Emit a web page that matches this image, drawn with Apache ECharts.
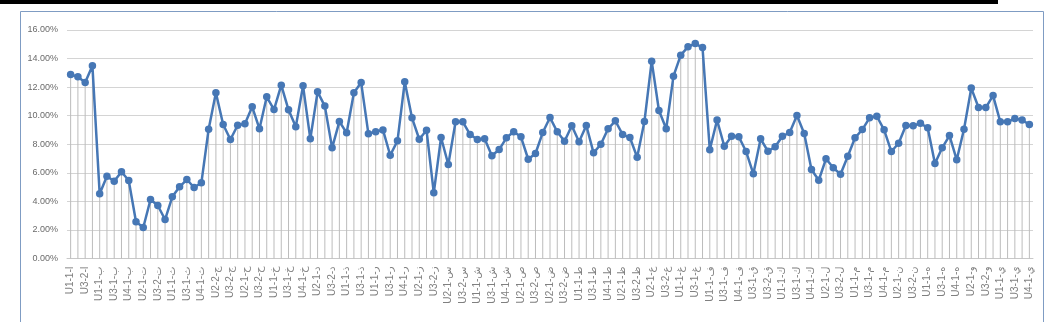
<!DOCTYPE html>
<html>
<head>
<meta charset="utf-8">
<script src="https://cdn.jsdelivr.net/npm/echarts@6/dist/echarts.min.js"></script>
<style>
html,body{margin:0;padding:0;background:#fff;}
#chart{width:1046px;height:322px;}
</style>
</head>
<body>
<div id="chart"></div>
<script>
// Categories (133); every other one is labelled on the axis
const categories = [
 'U1-1-ا','U2-1-ا','U3-2-ا','U4-1-ا','U1-1-ب','U2-1-ب','U3-1-ب','U3-2-ب','U4-1-ب','U1-1-ت',
 'U2-1-ت','U3-1-ت','U3-2-ت','U4-1-ت','U1-1-ث','U2-1-ث','U3-1-ث','U3-2-ث','U4-1-ث','U2-1-ج',
 'U2-2-ج','U3-1-ج','U3-2-ج','U1-1-ح','U2-1-ح','U3-1-ح','U3-2-ح','U4-1-ح','U1-1-خ','U2-1-خ',
 'U3-1-خ','U3-2-خ','U4-1-خ','U1-1-د','U2-1-د','U3-1-د','U3-2-د','U4-1-د','U1-1-ذ','U2-1-ذ',
 'U3-1-ذ','U4-1-ذ','U1-1-ر','U2-1-ر','U3-1-ر','U3-2-ر','U4-1-ر','U1-1-ز','U2-1-ز','U3-1-ز',
 'U3-2-ز','U1-1-س','U2-1-س','U3-1-س','U3-2-س','U4-1-س','U1-1-ش','U2-1-ش','U3-1-ش','U3-2-ش',
 'U4-1-ش','U1-1-ص','U2-1-ص','U3-1-ص','U3-2-ص','U1-1-ض','U2-1-ض','U3-1-ض','U3-2-ض','U4-1-ض',
 'U1-1-ط','U2-1-ط','U3-1-ط','U3-2-ط','U4-1-ط','U1-1-ظ','U2-1-ظ','U3-1-ظ','U3-2-ظ','U1-1-ع',
 'U2-1-ع','U3-1-ع','U3-2-ع','U4-1-ع','U1-1-غ','U2-1-غ','U3-1-غ','U3-2-غ','U1-1-ف','U2-1-ف',
 'U3-1-ف','U3-2-ف','U4-1-ف','U2-1-ق','U3-1-ق','U3-1-ق ','U3-2-ق','U4-1-ق','U1-1-ك','U2-1-ك',
 'U3-1-ك','U3-2-ك','U4-1-ك','U1-1-ل','U2-1-ل','U3-1-ل','U3-2-ل','U4-1-ل','U1-1-م','U2-1-م',
 'U3-1-م','U3-2-م','U4-1-م','U1-1-ن','U2-1-ن','U3-1-ن','U3-2-ن','U4-1-ن','U1-1-ه','U2-1-ه',
 'U3-1-ه','U3-2-ه','U4-1-ه','U1-1-و','U2-1-و','U3-1-و','U3-2-و','U4-1-و','U1-1-ي','U2-1-ي',
 'U3-1-ي','U3-2-ي','U4-1-ي'
];

// Values in percent
const values = [
 12.88,12.72,12.32,13.49,4.53,5.76,5.41,6.07,5.46,2.57,
 2.17,4.13,3.71,2.73,4.32,5.02,5.53,4.97,5.30,9.05,
 11.60,9.38,8.33,9.33,9.43,10.62,9.08,11.32,10.43,12.14,
 10.41,9.22,12.09,8.38,11.67,10.67,7.75,9.59,8.80,11.60,
 12.32,8.73,8.87,9.00,7.23,8.24,12.37,9.85,8.35,8.98,
 4.60,8.47,6.58,9.57,9.57,8.68,8.33,8.38,7.19,7.63,
 8.45,8.87,8.52,6.95,7.35,8.82,9.87,8.87,8.21,9.29,
 8.17,9.31,7.40,8.00,9.08,9.64,8.68,8.47,7.09,9.59,
 13.82,10.36,9.08,12.77,14.24,14.82,15.05,14.77,7.62,9.69,
 7.86,8.56,8.52,7.49,5.93,8.38,7.51,7.82,8.56,8.82,
 10.01,8.75,6.23,5.48,6.98,6.35,5.90,7.16,8.45,9.03,
 9.85,9.96,9.01,7.49,8.07,9.31,9.29,9.47,9.15,6.65,
 7.75,8.61,6.91,9.05,11.93,10.57,10.57,11.41,9.57,9.57,
 9.80,9.69,9.38
];

const yTicks = {min: 0, max: 16, interval: 2};

const chart = echarts.init(document.getElementById('chart'), null, {renderer: 'canvas'});
const labelFont = '"Liberation Sans","DejaVu Sans",sans-serif';

chart.setOption({
  animation: false,
  backgroundColor: '#ffffff',
  graphic: [
    {type: 'rect', silent: true, z: 100, shape: {x: 0, y: 0, width: 998, height: 4}, style: {fill: '#000000'}},
    {type: 'rect', silent: true, z: 100, shape: {x: 20.5, y: 11.5, width: 1023, height: 400}, style: {fill: 'none', stroke: '#7f9cc3', lineWidth: 1}}
  ],
  grid: {left: 67, right: 13, top: 30, bottom: 63.5, containLabel: false},
  xAxis: {
    type: 'category',
    data: categories,
    boundaryGap: true,
    axisLine: {show: true, lineStyle: {color: '#c8c8c8', width: 1}},
    axisTick: {show: false},
    axisLabel: {
      interval: 1,
      rotate: 90,
      margin: 8,
      color: '#808080',
      fontSize: 10,
      fontFamily: labelFont
    },
    splitLine: {show: false}
  },
  yAxis: {
    type: 'value',
    min: yTicks.min,
    max: yTicks.max,
    interval: yTicks.interval,
    axisLine: {show: false},
    axisTick: {show: false},
    axisLabel: {
      margin: 9,
      color: '#6a6a6a',
      fontSize: 9,
      fontFamily: labelFont,
      formatter: v => v.toFixed(2) + '%'
    },
    splitLine: {show: true, lineStyle: {color: '#d4d4d4', width: 1}}
  },
  series: [
    {
      type: 'bar',
      data: values,
      barWidth: 1,
      silent: true,
      itemStyle: {color: '#bcbcbc'},
      z: 1
    },
    {
      type: 'line',
      data: values,
      symbol: 'circle',
      symbolSize: 7.5,
      showAllSymbol: true,
      lineStyle: {color: '#4677b5', width: 2.5},
      itemStyle: {color: '#4677b5'},
      z: 3
    }
  ]
});
</script>
</body>
</html>
